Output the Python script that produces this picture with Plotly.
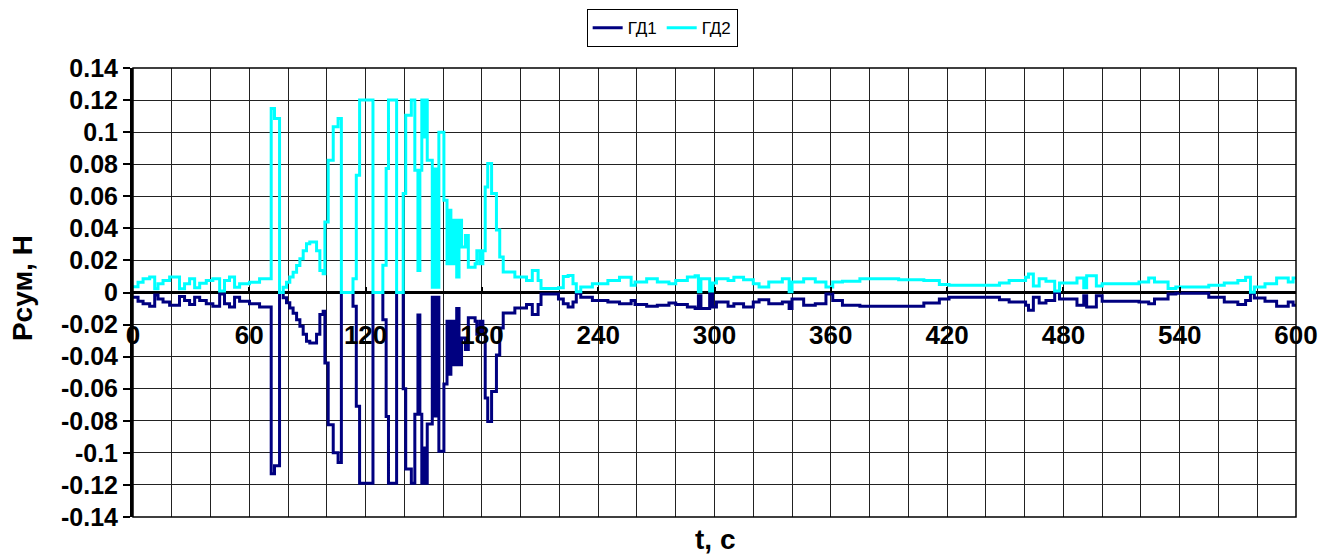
import plotly.graph_objects as go

# Breakpoint times (s) of the step-wise signals
t_s = [0, 2.6, 5.2, 8.6, 11.2, 12.9, 15.5, 18.9, 24.0, 26.6, 29.2, 31.8, 34.4, 37.8, 41.2, 44.7,
       47.2, 49.8, 52.4, 55.0, 60.1, 65.3, 71.3, 73.0, 75.6, 77.5, 79.2, 80.9, 82.6, 84.4,
       86.1, 87.8, 89.5, 91.2, 94.7, 96.4, 98.1, 99.0, 100.7, 103.3, 105.8, 107.5, 113.5,
       115.2, 116.9, 123.8, 128.9, 130.6, 131.8, 136.0, 139.4, 140.7, 143.6, 145.4, 147.0,
       148.0, 149.0, 150.0, 150.8, 151.8, 154.4, 155.4, 156.3, 157.8, 160.4, 162.0, 163.0,
       164.0, 165.5, 167.0, 168.2, 169.5, 171.5, 173.0, 176.5, 177.4, 179.0, 180.5, 181.7,
       183.0, 185.0, 187.5, 189.2, 191.0, 197.0, 203.0, 206.0, 209.0, 210.5, 219.5, 222.0,
       224.5, 227.0, 228.7, 231.0, 237.0, 245.0, 251.0, 257.0, 259.0, 265.0, 270.5, 276.5,
       280.0, 286.0, 290.0, 291.7, 293.0, 297.5, 299.0, 301.0, 307.0, 310.0, 315.0, 320.0,
       323.0, 328.0, 335.0, 338.5, 340.0, 346.0, 352.0, 357.5, 361.0, 366.0, 375.0, 395.0,
       408.0, 416.0, 421.0, 447.0, 452.0, 460.5, 462.0, 464.5, 467.5, 471.0, 475.5, 478.0,
       487.0, 490.5, 492.0, 497.0, 500.0, 519.0, 524.0, 527.0, 534.0, 538.0, 555.0, 563.0,
       570.0, 574.0, 576.5, 578.5, 584.0, 590.0, 596.0, 598.5, 600.0]

gd2 = [0.0036, 0.0064, 0.0085, 0.0096, 0.0023, 0.0054, 0.0075, 0.0096, 0.0023, 0.0054, 0.0085,
       0.0029, 0.0058, 0.0075, 0.0085, 0.0010, 0.0075, 0.0096, 0.0033, 0.0054, 0.0064, 0.0085,
       0.1148, 0.1085, 0.0, 0.0033, 0.0064, 0.0096, 0.0127, 0.0169, 0.0210, 0.0260, 0.0304,
       0.0315, 0.0260, 0.0137, 0.0117, 0.0440, 0.0825, 0.1033, 0.1085, 0.0, 0.0085, 0.0731,
       0.1200, 0.0, 0.0170, 0.0773, 0.1200, 0.0, 0.0617, 0.1106, 0.1200, 0.0763, 0.0137,
       0.0763, 0.1200, 0.0970, 0.1200, 0.0825, 0.0033, 0.0770, 0.0033, 0.0999, 0.0575,
       0.0180, 0.0513, 0.0180, 0.0450, 0.0096, 0.0450, 0.0284, 0.0356, 0.0158, 0.0179,
       0.0260, 0.0179, 0.0260, 0.0658, 0.0804, 0.0617, 0.0390, 0.0221, 0.0128, 0.0096,
       0.0075, 0.0137, 0.0075, 0.0025, 0.0030, 0.0100, 0.0106, 0.0054, 0.0005, 0.0035,
       0.0055, 0.0075, 0.0095, 0.0045, 0.0065, 0.0085, 0.0065, 0.0055, 0.0075, 0.0096,
       0.0105, 0.0005, 0.0085, 0.0010, 0.0060, 0.0085, 0.0075, 0.0095, 0.0080, 0.0055,
       0.0035, 0.0065, 0.0085, 0.0005, 0.0065, 0.0085, 0.0065, 0.0035, 0.0065, 0.0070,
       0.0085, 0.0080, 0.0075, 0.0050, 0.0045, 0.0060, 0.0075, 0.0095, 0.0115, 0.0040,
       0.0085, 0.0070, 0.0010, 0.0060, 0.0090, 0.0030, 0.0105, 0.0040, 0.0055, 0.0065,
       0.0090, 0.0065, 0.0025, 0.0035, 0.0045, 0.0060, 0.0075, 0.0095, 0.0002, 0.0035,
       0.0055, 0.0090, 0.0065, 0.0090, 0.0090]

gd1 = [-0.0030, -0.0055, -0.0070, -0.0085, -0.0015, -0.0040, -0.0060, -0.0080, -0.0025, -0.0050,
       -0.0075, -0.0030, -0.0050, -0.0070, -0.0085, -0.0010, -0.0070, -0.0090, -0.0030, -0.0055,
       -0.0070, -0.0090, -0.1130, -0.1080, 0.0, -0.0033, -0.0064, -0.0096, -0.0130, -0.0170,
       -0.0210, -0.0260, -0.0304, -0.0315, -0.0260, -0.0137, -0.0117, -0.0440, -0.0825, -0.1000,
       -0.1060, 0.0, -0.0085, -0.0710, -0.1190, 0.0, -0.0170, -0.0773, -0.1190, 0.0, -0.0600,
       -0.1100, -0.1190, -0.0760, -0.0140, -0.0760, -0.1190, -0.0970, -0.1190, -0.0820, -0.0030,
       -0.0770, -0.0030, -0.0990, -0.0570, -0.0180, -0.0510, -0.0180, -0.0450, -0.0100, -0.0450,
       -0.0284, -0.0356, -0.0158, -0.0180, -0.0260, -0.0180, -0.0260, -0.0658, -0.0804, -0.0617,
       -0.0390, -0.0221, -0.0128, -0.0096, -0.0075, -0.0137, -0.0075, -0.0010, -0.0040, -0.0070,
       -0.0090, -0.0060, -0.0005, -0.0030, -0.0050, -0.0060, -0.0070, -0.0050, -0.0075, -0.0085,
       -0.0080, -0.0065, -0.0075, -0.0090, -0.0100, -0.0020, -0.0100, -0.0010, -0.0090, -0.0060,
       -0.0085, -0.0070, -0.0090, -0.0060, -0.0045, -0.0070, -0.0060, -0.0100, -0.0040, -0.0080,
       -0.0070, -0.0010, -0.0050, -0.0080, -0.0085, -0.0085, -0.0065, -0.0040, -0.0030, -0.0045,
       -0.0060, -0.0080, -0.0110, -0.0030, -0.0065, -0.0050, 0.0000, -0.0040, -0.0080, -0.0020,
       -0.0090, -0.0020, -0.0055, -0.0060, -0.0070, -0.0040, -0.0010, -0.0005, -0.0030, -0.0060,
       -0.0075, -0.0050, -0.0005, -0.0035, -0.0055, -0.0085, -0.0060, -0.0080, -0.0080]

x_ticks = [0, 60, 120, 180, 240, 300, 360, 420, 480, 540, 600]
x_labels = ["0", "60", "120", "180", "240", "300", "360", "420", "480", "540", "600"]
y_ticks = [0.14, 0.12, 0.1, 0.08, 0.06, 0.04, 0.02, 0, -0.02, -0.04, -0.06, -0.08, -0.1, -0.12, -0.14]
y_labels = ["0.14", "0.12", "0.1", "0.08", "0.06", "0.04", "0.02", "0", "-0.02", "-0.04",
            "-0.06", "-0.08", "-0.1", "-0.12", "-0.14"]

FONT = "Liberation Sans, Arial, sans-serif"

fig = go.Figure()
fig.add_trace(go.Scatter(x=t_s, y=gd1, name="ГД1", mode="lines",
                         line=dict(color="#000080", width=3, shape="hv")))
fig.add_trace(go.Scatter(x=t_s, y=gd2, name="ГД2", mode="lines",
                         line=dict(color="#00FFFF", width=3, shape="hv")))

fig.update_layout(
    width=1325, height=547,
    margin=dict(l=125, r=37, t=60, b=38, autoexpand=False),
    paper_bgcolor="white", plot_bgcolor="white",
    font=dict(family=FONT, color="black"),
    showlegend=True,
    legend=dict(orientation="h", x=0.455, xanchor="center", y=1.131, yanchor="top",
                bordercolor="black", borderwidth=1, bgcolor="white",
                font=dict(size=17, family=FONT), itemwidth=30, tracegroupgap=0),
    xaxis=dict(range=[0, 600], tickvals=x_ticks, ticktext=x_labels,
               anchor="free", position=0.5, showline=False,
               ticks="inside", ticklen=6, tickwidth=2, tickcolor="black",
               ticklabelstandoff=24,
               tickfont=dict(size=26, family=FONT, weight="bold"),
               showgrid=True, gridcolor="#222", gridwidth=1,
               minor=dict(dtick=20, tick0=0, showgrid=True, gridcolor="#222", gridwidth=1),
               zeroline=False, fixedrange=True),
    yaxis=dict(range=[-0.14, 0.14], tickvals=y_ticks, ticktext=y_labels,
               showline=True, linewidth=3, linecolor="black",
               ticks="outside", ticklen=7, tickwidth=2, tickcolor="black",
               tickfont=dict(size=25, family=FONT, weight="bold"),
               showgrid=True, gridcolor="#222", gridwidth=1,
               zeroline=True, zerolinecolor="black", zerolinewidth=3, fixedrange=True),
    shapes=[dict(type="rect", xref="paper", yref="paper", x0=0, x1=1, y0=0, y1=1,
                 line=dict(color="black", width=1.5), layer="above")],
    annotations=[
        dict(text="Pсум, Н", xref="paper", yref="paper", x=-0.0954, y=0.51,
             textangle=-90, showarrow=False, xanchor="center", yanchor="middle",
             font=dict(size=28, family=FONT, weight="bold")),
        dict(text="t, c", xref="paper", yref="paper", x=0.5, y=-0.051,
             showarrow=False, xanchor="center", yanchor="middle",
             font=dict(size=28, family=FONT, weight="bold")),
    ],
)

fig.write_html("out.html")
